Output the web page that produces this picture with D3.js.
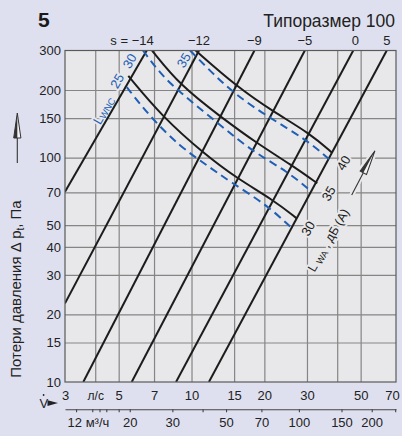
<!DOCTYPE html>
<html><head><meta charset="utf-8">
<script src="https://cdn.jsdelivr.net/npm/d3@7"></script>
<style>
html,body{margin:0;padding:0;background:#dfe0ef;}
svg{display:block;font-family:"Liberation Sans",Arial,Helvetica,sans-serif;}
</style></head><body>
<svg id="c" width="402" height="436"></svg>
<script>
// ---------- data ----------
const flowGrid    = [4, 5, 7, 10, 15, 20, 30, 40, 50];          // l/s
const flowLabels  = [3, 4, 5, 7, 10, 15, 20, 30, 50, 70];       // 4 -> "л/с"
const pressGrid   = [15, 20, 30, 40, 50, 70, 100, 150, 200];     // Pa
const pressLabels = [10, 15, 20, 30, 40, 50, 70, 100, 150, 200, 300];
const m3hTicks    = [12, 14, 15, 16, 18, 20, 30, 40, 50, 70, 100, 150, 200, 250];
const m3hLabels   = [12, 20, 30, 50, 70, 100, 150, 200];

// damper position lines (s), each [V l/s, Δp Pa] end points
const sNames = ["−14", "−12", "−9", "−5", "0", "5"];
const sLines = [
  [[3, 70.4], [6.53, 300]],
  [[3, 22.4], [10.74, 300]],
  [[3.57, 10], [18.2, 300]],
  [[5.66, 10], [29.4, 300]],
  [[8.63, 10], [46.6, 300]],
  [[11.8, 10], [64.1, 300]]
];

// sound power L_WA, dB(A)
const lwaLevels = [30, 35, 40];
const lwa30 = [[5.48, 231], [7.53, 153], [11.2, 104.5], [15.4, 80.8], [21.8, 64.7], [27.2, 53.6]];
const lwa35 = [[6.87, 300], [8.96, 210], [13.3, 151], [18.6, 116], [25.9, 92.6], [33.1, 76.8]];
const lwa40 = [[10.4, 300], [15.3, 208], [21.8, 160], [30.9, 128], [38.1, 105]];

// L_WNC
const lwncLevels = [25, 30, 35];
const lwnc25 = [[5.40, 206], [6.74, 152], [8.96, 112], [11.55, 92.6], [14.4, 78.1], [20.5, 61.5], [25.9, 48.6]];
const lwnc30 = [[6.30, 300], [7.41, 238], [8.71, 200], [13.1, 140], [17.95, 106], [25.05, 86.5], [31.4, 70.4]];
const lwnc35 = [[9.86, 300], [11.4, 256], [14.9, 193], [21.1, 150], [29.9, 120], [37.4, 97.5]];

// ---------- layout ----------
const W = 402, H = 436;
const L = 65, R = 396, T = 50.5, B = 382;
const PLOTBG = "#e8e8ea", PAGEBG = "#dfe0ef";
const BLUE = "#1f5fb6", INK = "#1c1c1c", GRID = "#858585";

const x = d3.scaleLog().domain([3, 70]).range([L, R]);
const y = d3.scaleLog().domain([10, 300]).range([B, T]);
const xm = d3.scaleLog().domain([3 * 3.6, 70 * 3.6]).range([L, R]);

const svg = d3.select("#c");
svg.append("rect").attr("width", W).attr("height", H).attr("fill", PAGEBG);
svg.append("rect").attr("x", L).attr("y", T).attr("width", R - L).attr("height", B - T).attr("fill", PLOTBG);

svg.append("defs").append("clipPath").attr("id", "clip")
  .append("rect").attr("x", L).attr("y", T).attr("width", R - L).attr("height", B - T);

// grid
const gGrid = svg.append("g");
gGrid.append("g").attr("transform", `translate(0,${B})`)
  .call(d3.axisBottom(x).tickValues(flowGrid).tickSize(-(B - T)).tickFormat(""))
  .call(g => g.select(".domain").remove())
  .call(g => g.selectAll("line").attr("stroke", GRID).attr("stroke-width", 1.2));
gGrid.append("g").attr("transform", `translate(${L},0)`)
  .call(d3.axisLeft(y).tickValues(pressGrid).tickSize(-(R - L)).tickFormat(""))
  .call(g => g.select(".domain").remove())
  .call(g => g.selectAll("line").attr("stroke", GRID).attr("stroke-width", 1.2));

// label helper
function makeLabel(layer, cx, cy, angle, parts, color, size, halo) {
  const t = layer.append("text")
    .attr("transform", `translate(${cx},${cy}) rotate(${angle})`)
    .attr("text-anchor", "middle").attr("dominant-baseline", "central")
    .attr("font-size", size);
  if (halo) t.attr("fill", "none").attr("stroke", PLOTBG).attr("stroke-width", 4).attr("stroke-linejoin", "round");
  else t.attr("fill", color);
  let shifted = false;
  parts.forEach(p => {
    const s = t.append("tspan").text(p.t);
    if (p.sub) { s.attr("font-size", size * 0.72).attr("dy", shifted ? 0 : 3); shifted = true; }
    else if (shifted) { s.attr("dy", -3); shifted = false; }
  });
}

const haloLayer = svg.append("g");
const curveLayer = svg.append("g").attr("clip-path", "url(#clip)");
const textLayer = svg.append("g");

// in-plot labels (positions derived from curve points)
const inLabels = [];
const wncCurves = [lwnc25, lwnc30, lwnc35];
const wncOff = [[-10, -6.3], [-13.8, 10.3], [-6.7, 9.5]];
wncCurves.forEach((c, i) => {
  const p = c[0];
  inLabels.push({ x: x(p[0]) + wncOff[i][0], y: y(p[1]) + wncOff[i][1], parts: [{ t: String(lwncLevels[i]) }], color: BLUE, size: 13 });
});
inLabels.push({ x: x(lwnc25[0][0]) - 23.5, y: y(lwnc25[0][1]) + 23, parts: [{ t: "L" }, { t: "WNC", sub: true }], color: BLUE, size: 13 });

const waCurves = [lwa30, lwa35, lwa40];
waCurves.forEach((c, i) => {
  const p = c[c.length - 1];
  inLabels.push({ x: x(p[0]) + 11, y: y(p[1]) + 10, parts: [{ t: String(lwaLevels[i]) }], color: INK, size: 13 });
});
inLabels.push({ x: x(lwa30[lwa30.length - 1][0]) + 32, y: y(lwa30[lwa30.length - 1][1]) + 22,
  parts: [{ t: "L " }, { t: "WA", sub: true }, { t: " , дБ (A)" }], color: INK, size: 12.5 });

inLabels.forEach(l => makeLabel(haloLayer, l.x, l.y, -60, l.parts, l.color, l.size, true));
inLabels.forEach(l => makeLabel(textLayer, l.x, l.y, -60, l.parts, l.color, l.size, false));

// curves
const line = d3.line().x(d => x(d[0])).y(d => y(d[1]));
const smooth = d3.line().x(d => x(d[0])).y(d => y(d[1])).curve(d3.curveBasis);

curveLayer.selectAll(".s").data(sLines).join("path")
  .attr("d", line).attr("fill", "none").attr("stroke", INK).attr("stroke-width", 2);
curveLayer.selectAll(".wa").data(waCurves).join("path")
  .attr("d", smooth).attr("fill", "none").attr("stroke", INK).attr("stroke-width", 2);
curveLayer.selectAll(".wnc").data(wncCurves).join("path")
  .attr("d", smooth).attr("fill", "none").attr("stroke", BLUE).attr("stroke-width", 2)
  .attr("stroke-dasharray", "8,5");

// frame
svg.append("rect").attr("x", L).attr("y", T).attr("width", R - L).attr("height", B - T)
  .attr("fill", "none").attr("stroke", "#5a5a5a").attr("stroke-width", 1.2);

// s labels on top
sLines.forEach((sl, i) => {
  const xt = x(sl[1][0]);
  const t = svg.append("text").attr("y", 45).attr("font-size", 13).attr("fill", "#222");
  if (i === 0) t.attr("x", xt + 7).attr("text-anchor", "end").text("s = " + sNames[i]);
  else t.attr("x", xt + (i === 4 ? 2 : 0)).attr("text-anchor", "middle").text(sNames[i]);
});

// y axis labels
svg.append("g").attr("transform", `translate(${L - 4},0)`)
  .call(d3.axisLeft(y).tickValues(pressLabels).tickSize(0).tickPadding(0).tickFormat(d => d))
  .call(g => g.select(".domain").remove())
  .call(g => g.selectAll("text").attr("font-size", 13).attr("fill", "#222").attr("font-family", null));

// x axis labels (l/s)
svg.append("g").attr("transform", `translate(0,${B})`)
  .call(d3.axisBottom(x).tickValues(flowLabels).tickSize(0).tickPadding(9).tickFormat(d => d === 4 ? "л/с" : d))
  .call(g => g.select(".domain").remove())
  .call(g => g.selectAll("text").attr("font-size", 13).attr("fill", "#222").attr("font-family", null))
  .call(g => g.selectAll(".tick").filter(d => d === 70).select("text").attr("x", -4))
  .call(g => g.selectAll(".tick").filter(d => d === 4).select("text").attr("font-size", 12));

// m3/h axis
const mY = 409.3;
svg.append("g").attr("transform", `translate(0,${mY})`)
  .call(d3.axisBottom(xm).tickValues(m3hTicks).tickSize(3).tickSizeOuter(0).tickFormat(""))
  .call(g => g.select(".domain").attr("stroke", "#444").attr("stroke-width", 1.1))
  .call(g => g.selectAll("line").attr("stroke", "#444").attr("stroke-width", 1.1));
svg.append("g").attr("transform", `translate(0,${mY})`)
  .call(d3.axisBottom(xm).tickValues(m3hLabels).tickSize(0).tickPadding(8).tickFormat(d => d === 12 ? "12 м³/ч" : d))
  .call(g => g.select(".domain").remove())
  .call(g => g.selectAll("text").attr("font-size", 13).attr("fill", "#222").attr("font-family", null))
  .call(g => g.selectAll(".tick").filter(d => d === 12).select("text").attr("text-anchor", "start").attr("x", -9));

// V̇ ►
svg.append("text").attr("x", 39.5).attr("y", 407.5).attr("font-size", 13).attr("fill", "#222").text("V");
svg.append("circle").attr("cx", 43.6).attr("cy", 395).attr("r", 0.9).attr("fill", "#222");
svg.append("path").attr("d", "M47.5,400.2 L47.5,406 L58,403.1 Z").attr("fill", "#222");

// titles
svg.append("text").attr("x", 38).attr("y", 26.7).attr("font-size", 21).attr("font-weight", "bold")
  .attr("fill", "#1a1a1a").text("5");
svg.append("text").attr("x", 395).attr("y", 27.3).attr("font-size", 17.5).attr("text-anchor", "end")
  .attr("fill", "#222").text("Типоразмер 100");

// y title
const yt = svg.append("text").attr("transform", "translate(21,289) rotate(-90)")
  .attr("text-anchor", "middle").attr("font-size", 15).attr("fill", "#222");
yt.append("tspan").text("Потери давления Δ p");
yt.append("tspan").attr("font-size", 10).attr("dy", 3).text("t");
yt.append("tspan").attr("dy", -3).text(", Па");

// arrows
function arrow(tx, ty, ang, halo) {
  const g = svg.append("g").attr("transform", `translate(${tx},${ty}) rotate(${ang})`);
  if (halo) g.append("path").attr("d", "M0,0 L0,-27 M0,-50 L-4,-25 L4,-25 Z")
    .attr("fill", PLOTBG).attr("stroke", PLOTBG).attr("stroke-width", 5);
  g.append("line").attr("x1", 0).attr("y1", 0).attr("x2", 0).attr("y2", -25)
    .attr("stroke", "#333").attr("stroke-width", 1.1);
  g.append("path").attr("d", "M0,-50 L-3.6,-25 L3.6,-25 Z").attr("fill", "#f4f4f6")
    .attr("stroke", "#333").attr("stroke-width", 1);
  g.append("path").attr("d", "M0,-50 L-3.6,-25 L0,-25 Z").attr("fill", "#333");
}
arrow(17.3, 163, 0, false);
arrow(351.7, 195, 27.7, true);
</script>
</body></html>
